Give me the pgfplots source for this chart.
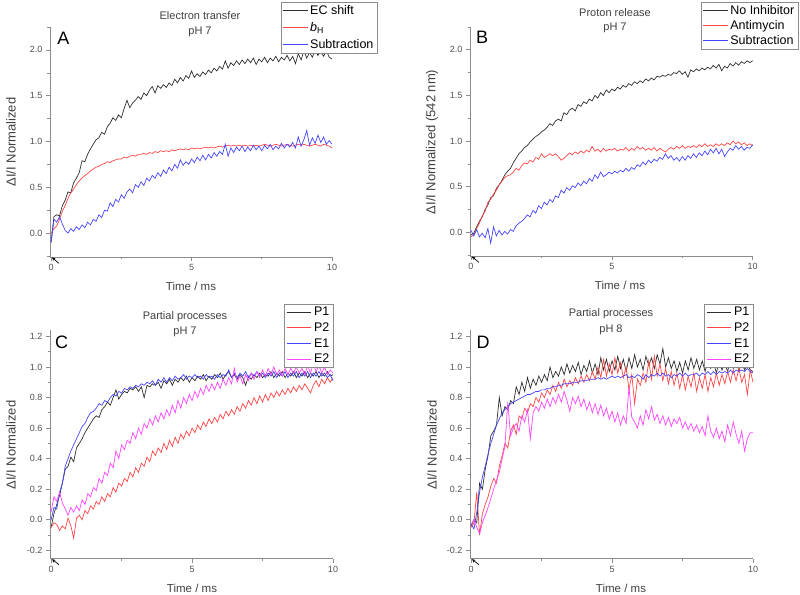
\documentclass[border=0pt]{standalone}
\usepackage{fontspec}
\setmainfont{Liberation Sans}
\usepackage{pgfplots}
\pgfplotsset{compat=1.18}
\usepackage{pgfplotstable}
\usetikzlibrary{arrows.meta}
\definecolor{cblack}{HTML}{2E2E2E}
\definecolor{cred}{HTML}{FF4545}
\definecolor{cblue}{HTML}{4545FF}
\definecolor{cmag}{HTML}{FF45FF}
\definecolor{axgray}{HTML}{8C8C8C}
\definecolor{txtgray}{HTML}{505050}

% Panel A: t, EC shift, b_H, Subtraction
\pgfplotstableread{
t ec bh sub
0.0 -0.10 0.00 -0.10
0.1 0.18 0.05 0.15
0.2 0.20 0.08 0.12
0.3 0.19 0.15 0.18
0.4 0.30 0.24 0.10
0.5 0.36 0.30 0.03
0.6 0.45 0.38 0.00
0.7 0.44 0.44 0.05
0.8 0.55 0.48 0.02
0.9 0.60 0.53 0.07
1.0 0.66 0.57 0.04
1.1 0.79 0.60 0.09
1.2 0.78 0.63 0.06
1.3 0.86 0.65 0.12
1.4 0.92 0.68 0.09
1.5 0.97 0.70 0.15
1.6 1.02 0.72 0.13
1.7 1.04 0.73 0.20
1.8 1.10 0.75 0.17
1.9 1.08 0.76 0.25
2.0 1.16 0.78 0.24
2.1 1.20 0.77 0.33
2.2 1.26 0.79 0.29
2.3 1.23 0.80 0.37
2.4 1.29 0.81 0.34
2.5 1.26 0.81 0.42
2.6 1.36 0.83 0.38
2.7 1.45 0.82 0.45
2.8 1.37 0.84 0.48
2.9 1.42 0.85 0.44
3.0 1.45 0.84 0.53
3.1 1.49 0.86 0.50
3.2 1.46 0.86 0.56
3.3 1.53 0.87 0.52
3.4 1.50 0.86 0.60
3.5 1.56 0.88 0.57
3.6 1.60 0.87 0.63
3.7 1.53 0.89 0.60
3.8 1.61 0.88 0.66
3.9 1.58 0.90 0.62
4.0 1.62 0.89 0.69
4.1 1.59 0.90 0.65
4.2 1.64 0.89 0.72
4.3 1.61 0.91 0.68
4.4 1.68 0.90 0.75
4.5 1.64 0.91 0.71
4.6 1.70 0.92 0.80
4.7 1.66 0.91 0.74
4.8 1.72 0.92 0.78
4.9 1.69 0.91 0.75
5.0 1.77 0.93 0.81
5.1 1.70 0.92 0.77
5.2 1.74 0.93 0.83
5.3 1.71 0.92 0.79
5.4 1.76 0.93 0.85
5.5 1.73 0.94 0.80
5.6 1.78 0.93 0.86
5.7 1.75 0.94 0.82
5.8 1.80 0.93 0.88
5.9 1.77 0.94 0.84
6.0 1.82 0.95 0.89
6.1 1.79 0.94 0.86
6.2 1.88 0.95 0.97
6.3 1.80 0.96 0.84
6.4 1.86 0.95 0.93
6.5 1.83 0.96 0.88
6.6 1.88 0.95 0.94
6.7 1.84 0.96 0.90
6.8 1.89 0.95 0.95
6.9 1.85 0.96 0.89
7.0 1.90 0.95 0.94
7.1 1.86 0.96 0.90
7.2 1.91 0.95 0.96
7.3 1.84 0.96 0.91
7.4 1.90 0.95 0.95
7.5 1.87 0.96 0.90
7.6 1.92 0.97 0.96
7.7 1.86 0.96 0.92
7.8 1.91 0.95 0.97
7.9 1.88 0.96 0.91
8.0 1.93 0.97 0.95
8.1 1.87 0.96 0.92
8.2 1.92 0.95 0.98
8.3 1.89 0.96 0.93
8.4 1.94 0.97 0.97
8.5 1.88 0.96 0.94
8.6 1.93 0.95 0.99
8.7 1.85 0.96 0.93
8.8 1.96 0.97 1.05
8.9 1.89 0.96 0.95
9.0 1.99 0.97 1.02
9.1 1.91 0.96 1.12
9.2 1.97 0.95 0.96
9.3 1.92 0.96 1.04
9.4 2.00 0.97 0.98
9.5 1.94 0.96 1.07
9.6 1.98 0.95 0.99
9.7 1.93 0.97 1.05
9.8 1.99 0.96 0.97
9.9 1.92 0.95 1.01
10.0 1.90 0.93 0.97
}\tabA

% Panel B: t, No Inhibitor, Antimycin, Subtraction
\pgfplotstableread{
t noi ant sub
0.0 -0.03 -0.05 0.02
0.1 -0.01 -0.03 -0.04
0.2 0.06 0.04 0.03
0.3 0.12 0.10 -0.05
0.4 0.17 0.18 -0.01
0.5 0.25 0.23 -0.06
0.6 0.30 0.33 0.04
0.7 0.38 0.36 -0.12
0.8 0.40 0.42 0.06
0.9 0.48 0.46 -0.04
1.0 0.52 0.52 0.02
1.1 0.57 0.56 -0.03
1.2 0.63 0.60 0.01
1.3 0.67 0.62 -0.02
1.4 0.70 0.63 0.03
1.5 0.76 0.66 0.01
1.6 0.81 0.70 0.07
1.7 0.86 0.68 0.10
1.8 0.89 0.73 0.12
1.9 0.93 0.76 0.15
2.0 0.95 0.75 0.19
2.1 0.99 0.79 0.17
2.2 1.02 0.77 0.24
2.3 1.05 0.82 0.21
2.4 1.07 0.80 0.29
2.5 1.10 0.86 0.26
2.6 1.12 0.82 0.33
2.7 1.15 0.84 0.30
2.8 1.19 0.86 0.36
2.9 1.17 0.84 0.33
3.0 1.22 0.86 0.40
3.1 1.24 0.83 0.38
3.2 1.22 0.79 0.46
3.3 1.31 0.81 0.43
3.4 1.29 0.84 0.49
3.5 1.34 0.87 0.46
3.6 1.36 0.85 0.51
3.7 1.33 0.88 0.49
3.8 1.40 0.86 0.54
3.9 1.38 0.89 0.51
4.0 1.43 0.87 0.56
4.1 1.41 0.90 0.53
4.2 1.46 0.88 0.59
4.3 1.44 0.94 0.56
4.4 1.50 0.89 0.63
4.5 1.47 0.91 0.59
4.6 1.53 0.88 0.66
4.7 1.50 0.92 0.61
4.8 1.56 0.89 0.63
4.9 1.53 0.91 0.66
5.0 1.57 0.90 0.64
5.1 1.55 0.92 0.67
5.2 1.59 0.89 0.65
5.3 1.57 0.91 0.68
5.4 1.61 0.90 0.66
5.5 1.59 0.93 0.70
5.6 1.63 0.89 0.67
5.7 1.61 0.92 0.71
5.8 1.65 0.90 0.69
5.9 1.63 0.94 0.74
6.0 1.66 0.91 0.72
6.1 1.64 0.93 0.77
6.2 1.68 0.90 0.74
6.3 1.66 0.92 0.79
6.4 1.69 0.90 0.76
6.5 1.67 0.93 0.80
6.6 1.71 0.89 0.78
6.7 1.70 0.92 0.82
6.8 1.72 0.90 0.80
6.9 1.71 0.88 0.86
7.0 1.73 0.91 0.81
7.1 1.72 0.93 0.84
7.2 1.75 0.91 0.79
7.3 1.74 0.94 0.82
7.4 1.77 0.92 0.78
7.5 1.73 0.95 0.83
7.6 1.76 0.92 0.79
7.7 1.70 0.94 0.84
7.8 1.78 0.93 0.81
7.9 1.76 0.95 0.86
8.0 1.79 0.93 0.82
8.1 1.77 0.96 0.87
8.2 1.80 0.94 0.84
8.3 1.78 0.97 0.89
8.4 1.81 0.94 0.85
8.5 1.79 0.96 0.91
8.6 1.83 0.94 0.87
8.7 1.80 0.97 0.92
8.8 1.84 0.95 0.86
8.9 1.77 0.97 0.91
9.0 1.82 0.95 0.83
9.1 1.80 0.98 0.88
9.2 1.85 0.96 0.92
9.3 1.82 1.00 0.90
9.4 1.86 0.97 0.95
9.5 1.83 0.99 0.91
9.6 1.87 0.96 0.94
9.7 1.85 0.98 0.90
9.8 1.88 0.95 0.93
9.9 1.86 0.97 0.92
10.0 1.88 0.95 0.96
}\tabB

% Panel C: t, P1, P2, E1, E2 (pH 7)
\pgfplotstableread{
t p1 p2 e1 e2
0.0 -0.05 -0.05 0.00 0.05
0.1 0.04 -0.02 0.08 0.15
0.2 0.10 -0.03 0.07 0.12
0.3 0.16 -0.07 0.18 0.18
0.4 0.24 -0.04 0.24 0.11
0.5 0.33 -0.06 0.35 0.07
0.6 0.35 0.01 0.40 0.03
0.7 0.41 -0.04 0.45 0.08
0.8 0.38 -0.12 0.49 0.05
0.9 0.47 0.01 0.53 0.09
1.0 0.50 0.03 0.57 0.06
1.1 0.53 0.00 0.61 0.13
1.2 0.57 0.06 0.63 0.10
1.3 0.60 0.04 0.67 0.17
1.4 0.63 0.09 0.70 0.15
1.5 0.66 0.07 0.71 0.21
1.6 0.68 0.12 0.73 0.19
1.7 0.67 0.10 0.76 0.27
1.8 0.72 0.15 0.75 0.24
1.9 0.74 0.12 0.78 0.31
2.0 0.77 0.17 0.77 0.29
2.1 0.75 0.15 0.80 0.37
2.2 0.80 0.21 0.82 0.34
2.3 0.85 0.18 0.81 0.45
2.4 0.79 0.24 0.84 0.40
2.5 0.82 0.22 0.83 0.49
2.6 0.84 0.27 0.86 0.46
2.7 0.83 0.25 0.85 0.52
2.8 0.86 0.31 0.87 0.50
2.9 0.85 0.28 0.86 0.57
3.0 0.87 0.34 0.88 0.53
3.1 0.84 0.31 0.87 0.60
3.2 0.87 0.37 0.89 0.56
3.3 0.80 0.35 0.88 0.63
3.4 0.88 0.41 0.90 0.60
3.5 0.87 0.38 0.89 0.66
3.6 0.89 0.45 0.91 0.62
3.7 0.88 0.42 0.88 0.68
3.8 0.90 0.47 0.92 0.64
3.9 0.86 0.44 0.90 0.70
4.0 0.91 0.50 0.93 0.66
4.1 0.89 0.46 0.90 0.72
4.2 0.92 0.52 0.93 0.68
4.3 0.88 0.48 0.91 0.75
4.4 0.92 0.54 0.94 0.70
4.5 0.90 0.50 0.92 0.78
4.6 0.93 0.56 0.93 0.73
4.7 0.91 0.53 0.95 0.80
4.8 0.94 0.58 0.92 0.76
4.9 0.90 0.55 0.94 0.82
5.0 0.93 0.60 0.93 0.78
5.1 0.91 0.57 0.95 0.84
5.2 0.94 0.62 0.93 0.80
5.3 0.92 0.59 0.94 0.86
5.4 0.95 0.64 0.92 0.82
5.5 0.91 0.61 0.95 0.88
5.6 0.94 0.66 0.93 0.84
5.7 0.92 0.63 0.94 0.89
5.8 0.95 0.67 0.92 0.85
5.9 0.93 0.64 0.95 0.90
6.0 0.96 0.69 0.93 0.86
6.1 0.92 0.66 0.95 0.92
6.2 0.95 0.71 0.94 0.88
6.3 0.97 0.68 0.98 0.93
6.4 0.93 0.72 0.93 0.89
6.5 0.95 0.69 0.96 0.99
6.6 0.92 0.74 0.93 0.90
6.7 0.95 0.71 0.96 0.94
6.8 0.93 0.76 0.94 0.89
6.9 0.88 0.73 0.97 0.95
7.0 0.94 0.78 0.93 0.91
7.1 0.92 0.75 0.96 0.96
7.2 0.95 0.80 0.94 0.92
7.3 0.93 0.76 0.97 0.97
7.4 0.96 0.81 0.94 0.93
7.5 0.93 0.77 0.96 0.98
7.6 0.95 0.82 0.93 0.94
7.7 0.94 0.78 0.96 0.99
7.8 0.97 0.83 0.94 0.95
7.9 0.93 0.80 0.97 1.00
8.0 0.96 0.84 0.93 0.95
8.1 0.94 0.81 0.96 0.98
8.2 0.97 0.85 0.94 0.94
8.3 0.93 0.82 0.97 0.99
8.4 0.96 0.86 0.93 0.95
8.5 0.94 0.83 0.96 0.99
8.6 0.97 0.87 0.94 0.96
8.7 0.93 0.84 0.97 1.00
8.8 0.96 0.88 0.93 0.96
8.9 0.94 0.85 0.96 0.99
9.0 0.97 0.89 0.94 0.95
9.1 0.93 0.86 0.97 1.01
9.2 0.96 0.83 0.93 0.96
9.3 0.94 0.88 0.96 1.02
9.4 0.97 0.91 0.94 0.97
9.5 0.93 0.87 0.97 1.01
9.6 0.96 0.92 0.94 0.96
9.7 0.94 0.89 0.96 1.00
9.8 0.97 0.93 0.93 0.95
9.9 0.94 0.90 0.95 0.98
10.0 0.95 0.93 0.91 0.96
}\tabC

% Panel D: t, P1, P2, E1, E2 (pH 8)
\pgfplotstableread{
t p1 p2 e1 e2
0.0 -0.04 -0.05 -0.03 -0.03
0.1 0.00 -0.02 -0.06 0.00
0.2 -0.02 0.18 0.05 -0.05
0.3 0.24 -0.10 0.18 -0.09
0.4 0.20 0.04 0.28 -0.02
0.5 0.33 0.10 0.35 0.03
0.6 0.42 0.15 0.43 0.08
0.7 0.55 0.22 0.50 0.14
0.8 0.58 0.27 0.56 0.20
0.9 0.62 0.24 0.62 0.26
1.0 0.80 0.35 0.66 0.31
1.1 0.68 0.42 0.70 0.40
1.2 0.74 0.50 0.72 0.48
1.3 0.72 0.47 0.74 0.77
1.4 0.78 0.58 0.76 0.55
1.5 0.76 0.62 0.77 0.60
1.6 0.87 0.56 0.78 0.63
1.7 0.82 0.68 0.79 0.58
1.8 0.90 0.66 0.80 0.68
1.9 0.84 0.73 0.81 0.64
2.0 0.93 0.70 0.82 0.72
2.1 0.86 0.76 0.82 0.53
2.2 0.92 0.74 0.83 0.70
2.3 0.88 0.80 0.84 0.74
2.4 0.94 0.77 0.84 0.71
2.5 0.90 0.83 0.85 0.77
2.6 0.95 0.80 0.85 0.73
2.7 0.91 0.85 0.86 0.79
2.8 1.00 0.82 0.86 0.74
2.9 0.93 0.88 0.87 0.80
3.0 0.97 0.84 0.87 0.76
3.1 0.94 0.90 0.88 0.82
3.2 1.00 0.86 0.88 0.77
3.3 0.95 0.92 0.89 0.84
3.4 1.02 0.87 0.89 0.78
3.5 0.96 0.91 0.89 0.71
3.6 1.01 0.88 0.90 0.80
3.7 0.97 0.93 0.90 0.76
3.8 1.03 0.89 0.90 0.81
3.9 0.95 0.94 0.91 0.74
4.0 1.01 0.90 0.91 0.79
4.1 0.97 0.95 0.91 0.72
4.2 1.04 0.91 0.92 0.77
4.3 0.96 0.97 0.92 0.70
4.4 1.02 0.92 0.92 0.76
4.5 0.95 1.00 0.93 0.69
4.6 1.06 0.93 0.92 0.75
4.7 0.98 1.05 0.93 0.68
4.8 1.05 0.94 0.92 0.73
4.9 0.97 1.02 0.93 0.66
5.0 1.04 0.95 0.94 0.71
5.1 0.98 1.06 0.93 0.64
5.2 1.07 0.96 0.94 0.70
5.3 0.99 1.03 0.93 0.62
5.4 1.05 0.93 0.94 0.68
5.5 0.97 1.00 0.95 0.63
5.6 1.06 0.85 0.93 0.87
5.7 0.99 0.95 0.94 0.67
5.8 1.08 0.76 0.93 0.64
5.9 1.00 0.92 0.95 0.60
6.0 1.05 0.88 0.94 0.68
6.1 0.98 0.96 0.92 0.62
6.2 1.07 0.90 0.95 0.72
6.3 1.01 1.04 0.93 0.66
6.4 1.06 0.92 0.95 0.74
6.5 0.99 1.07 0.94 0.65
6.6 1.08 0.94 0.96 0.69
6.7 1.02 1.02 0.94 0.63
6.8 1.12 0.91 0.96 0.68
6.9 1.00 0.99 0.94 0.62
7.0 1.06 0.89 0.95 0.67
7.1 0.99 0.97 0.93 0.61
7.2 1.04 0.88 0.95 0.66
7.3 0.97 0.96 0.94 0.63
7.4 1.03 0.86 0.96 0.67
7.5 0.96 0.95 0.94 0.60
7.6 1.04 0.85 0.96 0.64
7.7 0.98 0.94 0.94 0.59
7.8 1.06 0.87 0.95 0.63
7.9 0.99 0.96 0.95 0.58
8.0 1.05 0.84 0.96 0.62
8.1 0.98 0.93 0.94 0.57
8.2 1.04 0.86 0.96 0.61
8.3 0.97 0.95 0.95 0.55
8.4 1.05 0.84 0.97 0.68
8.5 0.99 0.93 0.95 0.58
8.6 1.03 0.87 0.97 0.54
8.7 0.96 0.96 0.95 0.60
8.8 1.04 0.88 0.97 0.53
8.9 0.98 0.95 0.96 0.58
9.0 1.02 0.89 0.97 0.51
9.1 0.97 0.97 0.96 0.62
9.2 1.05 0.90 0.98 0.55
9.3 0.99 0.98 0.96 0.64
9.4 1.04 0.91 0.98 0.56
9.5 0.97 0.99 0.97 0.50
9.6 1.03 0.90 0.98 0.58
9.7 0.98 0.95 0.97 0.45
9.8 1.02 0.82 0.99 0.53
9.9 0.98 0.98 0.97 0.57
10.0 0.97 0.90 0.96 0.57
}\tabD

\pgfplotsset{
  panel/.style={
    scale only axis, anchor=south west,
    axis x line*=bottom, axis y line*=left,
    axis line style={-, draw=axgray, line width=0.6pt},
    tick align=outside, major tick length=4pt, minor tick length=2.5pt,
    every tick/.style={axgray, line width=0.6pt},
    xmin=-0.04, xmax=10,
    xtick={0,5,10}, xticklabels={0,5,10}, minor xtick={2.5,7.5},
    ticklabel style={font=\fontsize{9}{10}\selectfont, text=txtgray},
    clip=false,
    legend cell align=left,
    legend image post style={xscale=1.45, line width=1.1pt},
    legend style={draw=axgray, fill=white, text=black,
      font=\fontsize{12.5}{14}\selectfont, anchor=north east,
      inner xsep=1.5pt, inner ysep=1pt, row sep=1.5pt},
    every axis plot/.append style={line width=0.7pt},
  },
  topy/.style={ymin=-0.26, ymax=2.25,
    ytick={0,0.5,1,1.5,2}, yticklabels={0.0,0.5,1.0,1.5,2.0},
    minor ytick={-0.25,0.25,0.75,1.25,1.75,2.25}},
  boty/.style={ymin=-0.255, ymax=1.24,
    ytick={-0.2,0,0.2,0.4,0.6,0.8,1.0,1.2},
    yticklabels={-0.2,0.0,0.2,0.4,0.6,0.8,1.0,1.2},
    minor ytick={-0.1,0.1,0.3,0.5,0.7,0.9,1.1}},
}

\begin{document}
\begin{tikzpicture}
\useasboundingbox (0,0) rectangle (800pt,594pt);

% ---- Panel A ----
\begin{axis}[panel, topy, at={(50pt,337pt)}, width=282pt, height=230pt,
  legend style={at={(axis description cs:1.16,1.109)}, row sep=2.5pt}]
\addplot[color=cblack] table[x=t,y=ec] {\tabA};
\addlegendentry{EC shift}
\addplot[color=cred] table[x=t,y=bh] {\tabA};
\addlegendentry{\textit{b}\textsubscript{H}}
\addplot[color=cblue] table[x=t,y=sub] {\tabA};
\addlegendentry{Subtraction}
\draw[black, line width=0.7pt, -{Stealth[length=3.5pt,width=3pt]}] (axis cs:0.28,-0.33) -- (axis cs:0.03,-0.265);
\end{axis}

% ---- Panel B ----
\begin{axis}[panel, topy, at={(470pt,338pt)}, width=282.7pt, height=229pt,
  xmin=-0.035,
  legend style={at={(axis description cs:1.16,1.109)}, row sep=0.5pt}]
\addplot[color=cblack] table[x=t,y=noi] {\tabB};
\addlegendentry{No Inhibitor}
\addplot[color=cred] table[x=t,y=ant] {\tabB};
\addlegendentry{Antimycin}
\addplot[color=cblue] table[x=t,y=sub] {\tabB};
\addlegendentry{Subtraction}
\draw[black, line width=0.7pt, -{Stealth[length=3.5pt,width=3pt]}] (axis cs:0.28,-0.33) -- (axis cs:0.03,-0.265);
\end{axis}

% ---- Panel C ----
\begin{axis}[panel, boty, at={(50pt,35.3pt)}, width=283pt, height=228.4pt,
  legend style={at={(axis description cs:1.0,1.115)}}]
\addplot[color=cblack] table[x=t,y=p1] {\tabC};
\addlegendentry{P1}
\addplot[color=cred] table[x=t,y=p2] {\tabC};
\addlegendentry{P2}
\addplot[color=cblue] table[x=t,y=e1] {\tabC};
\addlegendentry{E1}
\addplot[color=cmag] table[x=t,y=e2] {\tabC};
\addlegendentry{E2}
\draw[black, line width=0.7pt, -{Stealth[length=3.5pt,width=3pt]}] (axis cs:0.28,-0.295) -- (axis cs:0.03,-0.258);
\end{axis}

% ---- Panel D ----
\begin{axis}[panel, boty, at={(470pt,35.3pt)}, width=283pt, height=228.4pt,
  legend style={at={(axis description cs:1.0,1.115)}}]
\addplot[color=cblack] table[x=t,y=p1] {\tabD};
\addlegendentry{P1}
\addplot[color=cred] table[x=t,y=p2] {\tabD};
\addlegendentry{P2}
\addplot[color=cblue] table[x=t,y=e1] {\tabD};
\addlegendentry{E1}
\addplot[color=cmag] table[x=t,y=e2] {\tabD};
\addlegendentry{E2}
\draw[black, line width=0.7pt, -{Stealth[length=3.5pt,width=3pt]}] (axis cs:0.28,-0.295) -- (axis cs:0.03,-0.258);
\end{axis}

% ---- texts ----
\begin{scope}[every node/.style={text=txtgray!80!black}]
\node[font=\fontsize{11}{13}\selectfont] at (200pt,578pt) {Electron transfer};
\node[font=\fontsize{11}{13}\selectfont] at (200pt,562pt) {pH 7};
\node[font=\fontsize{11}{13}\selectfont] at (615pt,581pt) {Proton release};
\node[font=\fontsize{11}{13}\selectfont] at (615pt,566pt) {pH 7};
\node[font=\fontsize{11}{13}\selectfont] at (185pt,277pt) {Partial processes};
\node[font=\fontsize{11}{13}\selectfont] at (185pt,262pt) {pH 7};
\node[font=\fontsize{11}{13}\selectfont] at (611pt,280pt) {Partial processes};
\node[font=\fontsize{11}{13}\selectfont] at (611pt,264pt) {pH 8};

\node[font=\fontsize{11.5}{13}\selectfont] at (191pt,308pt) {Time / ms};
\node[font=\fontsize{11.5}{13}\selectfont] at (620pt,309pt) {Time / ms};
\node[font=\fontsize{11.5}{13}\selectfont] at (192pt,5.5pt) {Time / ms};
\node[font=\fontsize{11.5}{13}\selectfont] at (621pt,5.5pt) {Time / ms};

\node[rotate=90, font=\fontsize{13}{15}\selectfont] at (11pt,452pt) {ΔI/I Normalized};
\node[rotate=90, font=\fontsize{13}{15}\selectfont] at (432pt,452pt) {ΔI/I Normalized (542 nm)};
\node[rotate=90, font=\fontsize{13}{15}\selectfont] at (11pt,149pt) {ΔI/I Normalized};
\node[rotate=90, font=\fontsize{13}{15}\selectfont] at (432pt,149pt) {ΔI/I Normalized};
\end{scope}

\node[font=\fontsize{18}{20}\selectfont, text=black] at (63.5pt,555.5pt) {A};
\node[font=\fontsize{18}{20}\selectfont, text=black] at (482pt,557pt) {B};
\node[font=\fontsize{18}{20}\selectfont, text=black] at (61.7pt,251.5pt) {C};
\node[font=\fontsize{18}{20}\selectfont, text=black] at (483pt,251.5pt) {D};
\end{tikzpicture}
\end{document}
